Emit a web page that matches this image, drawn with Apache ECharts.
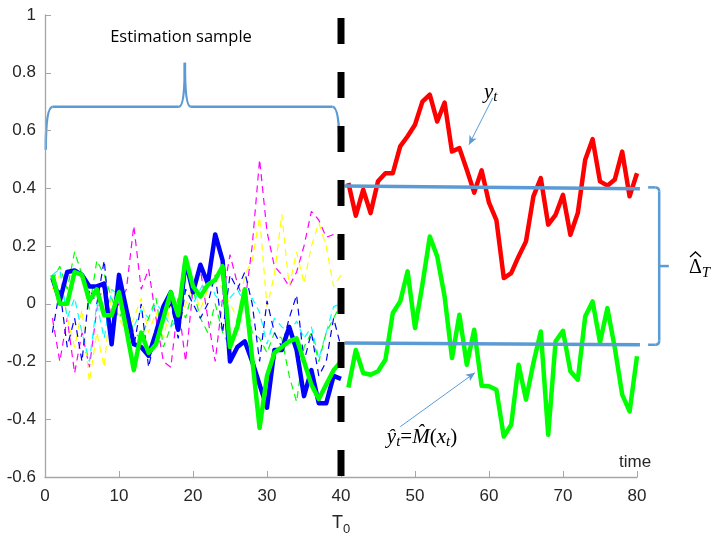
<!DOCTYPE html>
<title>estimation sample</title>
<style>
body {
    margin: 0;
}
#echart {
    height: 541px;
    width: 713px;
}
</style>
<div id='echart'></div>
<script src='https://cdn.jsdelivr.net/npm/echarts@6/dist/echarts.min.js'></script>
<script>
let T0 = 40
let past_t = Array.from({length: 40}, (_, i) => i + 1)
let future_t = Array.from({length: 40}, (_, i) => i + 41)
// thick in-sample series
let blue_thick = [0.09, 0.01, 0.11, 0.115, 0.1, 0.06, 0.06, 0.07, -0.14, 0.10, -0.02, -0.14, -0.15, -0.18, -0.10, -0.01, 0.04, -0.09, 0.15, 0.04, 0.135, 0.07, 0.24, 0.15, -0.20, -0.15, -0.13, -0.2, -0.28, -0.36, -0.16, -0.16, -0.08, -0.16, -0.32, -0.23, -0.345, -0.345, -0.25, -0.26]
let green_thick = [0.10, 0.0, 0.0, 0.11, 0.10, 0.01, 0.05, -0.04, -0.04, 0.04, -0.09, -0.23, -0.10, -0.17, -0.14, -0.05, 0.04, -0.04, 0.16, 0.06, 0.025, 0.066, 0.083, 0.13, -0.15, -0.08, 0.05, -0.19, -0.43, -0.25, -0.17, -0.15, -0.13, -0.12, -0.20, -0.28, -0.33, -0.28, -0.23, -0.20]
// thin dashed regressors
let magenta = [-0.05, -0.2, -0.05, -0.24, -0.1, -0.22, -0.02, 0.08, -0.05, 0.0, 0.05, 0.27, 0.05, 0.12, -0.05, -0.2, -0.22, 0.0, -0.2, 0.05, 0.12, -0.05, -0.2, 0.02, 0.17, 0.07, 0.0, 0.2, 0.5, 0.25, 0.13, 0.1, 0.06, 0.11, 0.2, 0.32, 0.29, 0.23, 0.24, 0.22]
let yellow = [0.05, 0.1, -0.05, -0.15, -0.02, -0.27, -0.1, -0.22, 0.05, -0.05, -0.1, -0.05, 0.02, -0.1, -0.03, -0.12, 0.0, -0.08, 0.0, 0.06, -0.02, 0.05, 0.1, 0.05, 0.0, -0.05, 0.1, 0.15, 0.3, -0.01, 0.1, 0.31, 0.06, 0.18, 0.07, 0.2, 0.28, 0.2, 0.06, 0.1]
let cyan = [0.1, 0.12, -0.05, 0.02, -0.1, -0.2, 0.0, -0.12, 0.05, 0.03, -0.05, -0.08, -0.02, -0.05, 0.0, -0.03, -0.08, -0.05, 0.05, 0.0, 0.05, 0.1, 0.03, 0.0, 0.02, 0.05, 0.0, 0.02, -0.03, -0.14, -0.05, -0.08, -0.1, -0.06, -0.12, -0.08, -0.19, -0.1, -0.01, 0.0]
let green_thin = [0.08, 0.13, 0.05, 0.18, 0.1, -0.02, 0.15, 0.1, 0.02, -0.05, 0.0, -0.1, -0.12, -0.05, 0.02, -0.15, -0.08, 0.02, -0.05, 0.05, -0.05, -0.1, 0.0, -0.1, -0.15, -0.05, 0.05, -0.1, -0.12, -0.17, -0.1, -0.12, -0.25, -0.34, -0.15, -0.1, -0.2, -0.1, -0.05, 0.0]
let blue_thin = [-0.1, 0.05, -0.15, -0.05, -0.2, 0.05, 0.0, 0.15, -0.12, 0.1, -0.05, -0.15, 0.0, -0.22, -0.1, -0.05, 0.0, -0.12, 0.05, 0.0, -0.05, 0.0, 0.1, -0.1, 0.1, 0.05, 0.11, 0.0, -0.2, 0.01, -0.1, -0.15, -0.05, 0.03, -0.2, -0.1, -0.25, -0.2, -0.05, -0.15]
// out-of-sample
let y_red = [0.418, 0.305, 0.395, 0.314, 0.424, 0.452, 0.452, 0.545, 0.58, 0.62, 0.70, 0.724, 0.631, 0.697, 0.527, 0.539, 0.464, 0.385, 0.462, 0.35, 0.29, 0.089, 0.106, 0.164, 0.216, 0.372, 0.435, 0.274, 0.308, 0.377, 0.239, 0.314, 0.499, 0.57, 0.424, 0.409, 0.43, 0.527, 0.372, 0.452]
let y_hat = [-0.29, -0.16, -0.24, -0.246, -0.234, -0.194, -0.032, 0.008, 0.112, -0.084, 0.066, 0.233, 0.164, 0.025, -0.188, -0.038, -0.211, -0.09, -0.284, -0.286, -0.298, -0.46, -0.419, -0.211, -0.332, -0.205, -0.096, -0.454, -0.13, -0.094, -0.234, -0.263, -0.044, 0.008, -0.134, -0.015, -0.153, -0.315, -0.373, -0.182]
// annotation levels
let level_high = [[40.5, 0.408], [80.4, 0.398]]
let level_low = [[40.5, -0.136], [80.4, -0.142]]
let arrow_y = [[60.5, 0.713], [57.3, 0.551]]
let arrow_yhat = [[48, -0.426], [58.1, -0.239]]
let x_ticks = [0, 80, 10]
let y_ticks = [-0.6, 1, 0.2]

let pairs = (ts, vs) => ts.map((t, i) => [t, vs[i]])
let BRACE = '#5b9bd5'
let echart = echarts.init(document.querySelector('#echart'))
let dashed = (data, color) => ({
    type: 'line', data: pairs(past_t, data), showSymbol: false, silent: true,
    lineStyle: {color, width: 1.2, type: [7, 5]},
})
let thick = (data, color) => ({
    type: 'line', data, showSymbol: false, silent: true,
    lineStyle: {color, width: 4.5, join: 'round'},
})
let arrow = pts => ({
    silent: true, symbol: ['none', 'arrow'], symbolSize: [6, 9],
    label: {show: false}, lineStyle: {color: BRACE, width: 1, type: 'solid'},
    data: [[{coord: pts[0]}, {coord: pts[1]}]],
})
let axis_common = {
    axisLine: {onZero: false, lineStyle: {color: '#a6a6a6', width: 1.3}},
    axisTick: {inside: true, length: 6, lineStyle: {color: '#a6a6a6'}},
    splitLine: {show: false},
    axisLabel: {color: '#262626', fontSize: 17, fontFamily: 'Liberation Sans'},
}
let option = {
    animation: false,
    grid: {left: 45, right: 76, top: 15, bottom: 64},
    xAxis: {...axis_common, type: 'value', min: x_ticks[0], max: x_ticks[1], interval: x_ticks[2],
        axisLabel: {...axis_common.axisLabel, margin: 11}},
    yAxis: {...axis_common, type: 'value', min: y_ticks[0], max: y_ticks[1], interval: y_ticks[2],
        axisLabel: {...axis_common.axisLabel, margin: 9, formatter: v => String(+v.toFixed(1))}},
    series: [
        dashed(magenta, '#ff00ff'),
        dashed(yellow, '#ffff00'),
        dashed(cyan, '#00ffff'),
        dashed(green_thin, '#00ff00'),
        dashed(blue_thin, '#0000ff'),
        thick(pairs(past_t, blue_thick), '#0000ff'),
        thick(pairs(past_t, green_thick), '#00ff00'),
        {...thick(pairs(future_t, y_red), '#ff0000'), markLine: arrow(arrow_y)},
        {...thick(pairs(future_t, y_hat), '#00ff00'), markLine: arrow(arrow_yhat)},
        {type: 'line', data: level_high, showSymbol: false, silent: true, lineStyle: {color: BRACE, width: 3.5}},
        {type: 'line', data: level_low, showSymbol: false, silent: true, lineStyle: {color: BRACE, width: 3.5}},
        {type: 'line', data: [[T0, y_ticks[1]], [T0, y_ticks[0]]], showSymbol: false, silent: true,
            lineStyle: {color: '#000', width: 7, type: [26, 28], dashOffset: -3, cap: 'butt'}},
    ],
}
echart.setOption(option)

let px = p => echart.convertToPixel({gridIndex: 0}, p)
let brace_style = {fill: null, stroke: BRACE, lineWidth: 2.5}
let seg = (x1, y1, x2, y2) => ({type: 'line', shape: {x1, y1, x2, y2}, style: brace_style})
let curve = (x1, y1, cpx1, cpy1, x2, y2) => ({type: 'bezierCurve', shape: {x1, y1, cpx1, cpy1, x2, y2}, style: brace_style})
// top brace over the estimation sample
let [bx0, by0] = px([0.1, 0.533])
let [bx1] = px([39.8, 0.533])
let [tx, ty] = px([18.9, 0.835])
let [, yh] = px([0, 0.682])
let top_brace = [
    curve(bx0, by0, bx0, yh, bx0 + 7, yh),
    seg(bx0 + 7, yh, tx - 6, yh),
    curve(tx - 6, yh, tx, yh, tx, ty),
    curve(tx, ty, tx, yh, tx + 6, yh),
    seg(tx + 6, yh, bx1 - 7, yh),
    curve(bx1 - 7, yh, bx1, yh, bx1, by0),
]
// right bracket spanning the gap
let [rx0, ry0] = px([81.5, level_high[1][1] + 0.005])
let [rx1, ry1] = px([83.0, level_low[1][1]])
let [rx2] = px([84.3, 0])
let ry_mid = (ry0 + ry1) / 2
let right_brace = [
    seg(rx0, ry0, rx1 - 4, ry0),
    curve(rx1 - 4, ry0, rx1, ry0, rx1, ry0 + 4),
    seg(rx1, ry0 + 4, rx1, ry1 - 4),
    curve(rx1, ry1 - 4, rx1, ry1, rx1 - 4, ry1),
    seg(rx1 - 4, ry1, rx0, ry1),
    seg(rx1, ry_mid, rx2, ry_mid),
]
let serif = 'Liberation Serif'
echart.setOption({graphic: [
    ...top_brace,
    ...right_brace,
    {type: 'text', x: 181, y: 37, style: {text: 'Estimation sample', font: '16.5px "Open Sans"', fill: '#000', align: 'center', verticalAlign: 'middle'}},
    {type: 'text', x: 484, y: 92, style: {
        text: '{b|y}{s|t}', verticalAlign: 'middle',
        rich: {b: {fontSize: 21, fontStyle: 'italic', fontFamily: serif, fill: '#000'}, s: {fontSize: 15, fontStyle: 'italic', fontFamily: serif, fill: '#000', padding: [10, 0, 0, 0]}},
    }},
    {type: 'text', x: 422, y: 437, style: {
        text: '{b|ŷ}{s|t}{n|=}{b|M̂}{n|(}{b|x}{s|t}{n|)}', align: 'center', verticalAlign: 'middle',
        rich: {b: {fontSize: 21, fontStyle: 'italic', fontFamily: serif, fill: '#000'}, n: {fontSize: 21, fontFamily: serif, fill: '#000'}, s: {fontSize: 15, fontStyle: 'italic', fontFamily: serif, fill: '#000', padding: [10, 0, 0, 0]}},
    }},
    {type: 'text', x: 689, y: 268, style: {
        text: '{b|Δ}{s|T}', verticalAlign: 'middle',
        rich: {b: {fontSize: 20, fontFamily: serif, fill: '#000'}, s: {fontSize: 15, fontStyle: 'italic', fontFamily: serif, fill: '#000', padding: [10, 0, 0, 0]}},
    }},
    {type: 'polyline', shape: {points: [[690, 257], [695.5, 252], [701, 257]]}, style: {fill: null, stroke: '#000', lineWidth: 1.3}},
    {type: 'text', x: 619, y: 462, style: {text: 'time', font: '17px "Liberation Sans"', fill: '#262626', verticalAlign: 'middle'}},
    {type: 'text', x: 341, y: 523, style: {
        text: '{b|T}{s|0}', align: 'center', verticalAlign: 'middle',
        rich: {b: {fontSize: 18, fontFamily: 'Liberation Sans', fill: '#262626'}, s: {fontSize: 13, fontFamily: 'Liberation Sans', fill: '#262626', padding: [12, 0, 0, 0]}},
    }},
]})
</script>
